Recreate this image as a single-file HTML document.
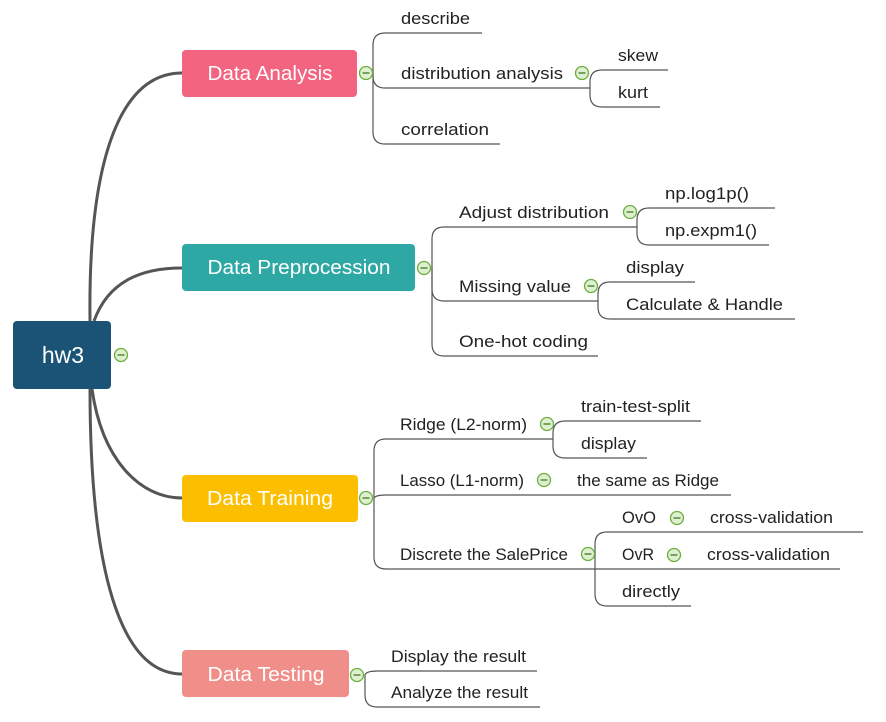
<!DOCTYPE html>
<html><head><meta charset="utf-8"><style>
html,body{margin:0;padding:0;background:#fff}
svg{display:block}
text{font-family:"Liberation Sans",sans-serif}
.s{font-size:17px;fill:#222}
.m{font-size:20px;fill:#fff}
</style></head><body>
<svg width="886" height="722" viewBox="0 0 886 722" xmlns="http://www.w3.org/2000/svg">
<defs>
<g id="tg"><circle r="6.5" fill="#dff0d0" stroke="#6cae3e" stroke-width="1.3"/><line x1="-3.5" y1="0" x2="3.5" y2="0" stroke="#3d7a20" stroke-width="1.3"/></g>
</defs>
<g fill="none" stroke="#555" stroke-width="3">
<path d="M90 321 C88 160 120 73 182 73"/>
<path d="M94 321 C108 282 140 268 182 268"/>
<path d="M92 389 C102 460 140 498 182 498"/>
<path d="M90 389 C90 570 120 674 182 674"/>
</g>
<g fill="none" stroke="#555" stroke-width="1.2">
<path d="M373 73 L373 45 Q373 33 385 33 L482 33"/>
<path d="M373 73 L373 76 Q373 88 385 88 L590 88"/>
<path d="M373 73 L373 132 Q373 144 385 144 L500 144"/>
<path d="M590 88 L590 82 Q590 70 602 70 L668 70"/>
<path d="M590 88 L590 95 Q590 107 602 107 L660 107"/>
<path d="M432 268 L432 239 Q432 227 444 227 L637 227"/>
<path d="M432 268 L432 289 Q432 301 444 301 L598 301"/>
<path d="M432 268 L432 344 Q432 356 444 356 L598 356"/>
<path d="M637 227 L637 220 Q637 208 649 208 L775 208"/>
<path d="M637 227 L637 233 Q637 245 649 245 L769 245"/>
<path d="M598 301 L598 294 Q598 282 610 282 L695 282"/>
<path d="M598 301 L598 307 Q598 319 610 319 L795 319"/>
<path d="M374 498 L374 451 Q374 439 386 439 L553 439"/>
<path d="M374 498 Q376 495 386 495 L731 495"/>
<path d="M374 498 L374 557 Q374 569 386 569 L595 569"/>
<path d="M553 439 L553 433 Q553 421 565 421 L701 421"/>
<path d="M553 439 L553 446 Q553 458 565 458 L647 458"/>
<path d="M595 569 L595 544 Q595 532 607 532 L863 532"/>
<path d="M595 569 L840 569"/>
<path d="M595 569 L595 594 Q595 606 607 606 L691 606"/>
<path d="M365 675 Q366 671 378 671 L537 671"/>
<path d="M365 675 L365 695 Q365 707 377 707 L540 707"/>
</g>
<rect x="13" y="321" width="98" height="68" rx="4" fill="#1b5376"/>
<text x="63" y="363" text-anchor="middle" style="font-size:23px;fill:#fff">hw3</text>
<rect x="182" y="50" width="175" height="47" rx="4" fill="#f36480"/>
<text x="270" y="80" text-anchor="middle" class="m" textLength="125" lengthAdjust="spacingAndGlyphs">Data Analysis</text>
<rect x="182" y="244" width="233" height="47" rx="4" fill="#2ea8a5"/>
<text x="299" y="274" text-anchor="middle" class="m" textLength="183" lengthAdjust="spacingAndGlyphs">Data Preprocession</text>
<rect x="182" y="475" width="176" height="47" rx="4" fill="#fbbf00"/>
<text x="270" y="505" text-anchor="middle" class="m" textLength="126" lengthAdjust="spacingAndGlyphs">Data Training</text>
<rect x="182" y="650" width="167" height="47" rx="4" fill="#f08f8a"/>
<text x="266" y="681" text-anchor="middle" class="m" textLength="117" lengthAdjust="spacingAndGlyphs">Data Testing</text>
<use href="#tg" x="121" y="355"/>
<use href="#tg" x="366" y="73"/>
<use href="#tg" x="582" y="73"/>
<use href="#tg" x="424" y="268"/>
<use href="#tg" x="630" y="212"/>
<use href="#tg" x="591" y="286"/>
<use href="#tg" x="366" y="498"/>
<use href="#tg" x="547" y="424"/>
<use href="#tg" x="544" y="480"/>
<use href="#tg" x="588" y="554"/>
<use href="#tg" x="677" y="518"/>
<use href="#tg" x="674" y="555"/>
<use href="#tg" x="357" y="675"/>
<g class="s">
<text class="s" x="401" y="24" textLength="69" lengthAdjust="spacingAndGlyphs">describe</text>
<text class="s" x="401" y="79" textLength="162" lengthAdjust="spacingAndGlyphs">distribution analysis</text>
<text class="s" x="401" y="135" textLength="88" lengthAdjust="spacingAndGlyphs">correlation</text>
<text class="s" x="618" y="61" textLength="40" lengthAdjust="spacingAndGlyphs">skew</text>
<text class="s" x="618" y="98" textLength="30" lengthAdjust="spacingAndGlyphs">kurt</text>
<text class="s" x="459" y="218" textLength="150" lengthAdjust="spacingAndGlyphs">Adjust distribution</text>
<text class="s" x="459" y="292" textLength="112" lengthAdjust="spacingAndGlyphs">Missing value</text>
<text class="s" x="459" y="347" textLength="129" lengthAdjust="spacingAndGlyphs">One-hot coding</text>
<text class="s" x="665" y="199" textLength="84" lengthAdjust="spacingAndGlyphs">np.log1p()</text>
<text class="s" x="665" y="236" textLength="92" lengthAdjust="spacingAndGlyphs">np.expm1()</text>
<text class="s" x="626" y="273" textLength="58" lengthAdjust="spacingAndGlyphs">display</text>
<text class="s" x="626" y="310" textLength="157" lengthAdjust="spacingAndGlyphs">Calculate &amp; Handle</text>
<text class="s" x="400" y="430" textLength="127" lengthAdjust="spacingAndGlyphs">Ridge (L2-norm)</text>
<text class="s" x="581" y="412" textLength="109" lengthAdjust="spacingAndGlyphs">train-test-split</text>
<text class="s" x="581" y="449" textLength="55" lengthAdjust="spacingAndGlyphs">display</text>
<text class="s" x="400" y="486" textLength="124" lengthAdjust="spacingAndGlyphs">Lasso (L1-norm)</text>
<text class="s" x="577" y="486" textLength="142" lengthAdjust="spacingAndGlyphs">the same as Ridge</text>
<text class="s" x="400" y="560" textLength="168" lengthAdjust="spacingAndGlyphs">Discrete the SalePrice</text>
<text class="s" x="622" y="523" textLength="34" lengthAdjust="spacingAndGlyphs">OvO</text>
<text class="s" x="710" y="523" textLength="123" lengthAdjust="spacingAndGlyphs">cross-validation</text>
<text class="s" x="622" y="560" textLength="32" lengthAdjust="spacingAndGlyphs">OvR</text>
<text class="s" x="707" y="560" textLength="123" lengthAdjust="spacingAndGlyphs">cross-validation</text>
<text class="s" x="622" y="597" textLength="58" lengthAdjust="spacingAndGlyphs">directly</text>
<text class="s" x="391" y="662" textLength="135" lengthAdjust="spacingAndGlyphs">Display the result</text>
<text class="s" x="391" y="698" textLength="137" lengthAdjust="spacingAndGlyphs">Analyze the result</text>
</g>
</svg>
</body></html>
